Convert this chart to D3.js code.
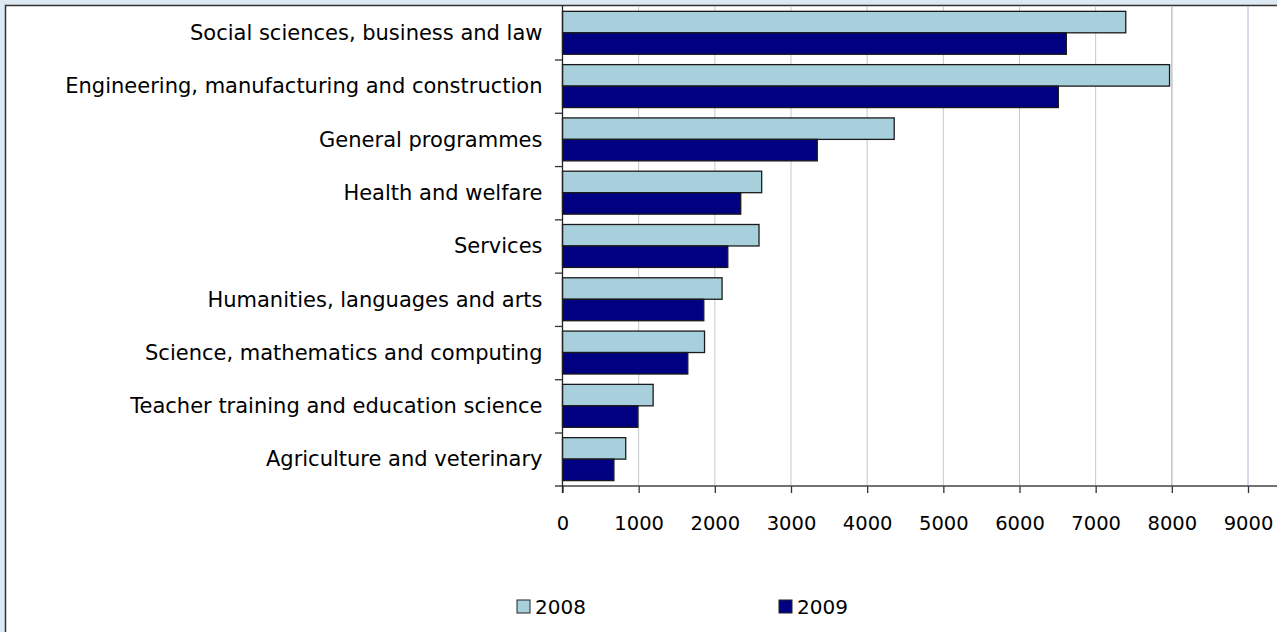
<!DOCTYPE html>
<html>
<head>
<meta charset="utf-8">
<script src="https://cdn.jsdelivr.net/npm/d3@7"></script>
<style>
  html, body { margin: 0; padding: 0; background: #dce8f2; }
  svg { display: block; }
  text { font-family: "DejaVu Sans", sans-serif; fill: #000; }
</style>
</head>
<body>
<svg id="chart" width="1277" height="632"></svg>
<script>
const categories = [
  "Social sciences, business and law",
  "Engineering, manufacturing and construction",
  "General programmes",
  "Health and welfare",
  "Services",
  "Humanities, languages and arts",
  "Science, mathematics and computing",
  "Teacher training and education science",
  "Agriculture and veterinary"
];
const seriesNames = ["2008", "2009"];
const values2008 = [7395, 7970, 4355, 2615, 2580, 2095, 1865, 1190, 830];
const values2009 = [6615, 6510, 3345, 2340, 2170, 1855, 1645, 990, 675];
const xTicks = [0, 1000, 2000, 3000, 4000, 5000, 6000, 7000, 8000, 9000];
const colors = ["#a8d0dc", "#000080"];

const svg = d3.select("#chart");
// chart frame
svg.append("rect").attr("x", 5.5).attr("y", 5.5).attr("width", 1290).attr("height", 640)
  .attr("fill", "#ffffff").attr("stroke", "#333333").attr("stroke-width", 1.5);

const x = d3.scaleLinear().domain([0, 9000]).range([562.5, 1248]);
const y = d3.scaleBand().domain(categories).range([6.7, 486.3]).padding(0);
const bw = y.bandwidth();
const ys = d3.scaleBand().domain(seriesNames).range([bw * 0.087, bw * 0.893]).padding(0);

// gridlines
svg.append("g").selectAll("line").data(xTicks.slice(1)).join("line")
  .attr("x1", d => x(d)).attr("x2", d => x(d))
  .attr("y1", 6).attr("y2", 486)
  .attr("stroke", d => d === 9000 ? "#b9b0dc" : "#c8c8c8")
  .attr("stroke-width", d => d === 8000 ? 1.6 : 1);

// bars
const data = categories.map((c, i) => ({ c, vals: [values2008[i], values2009[i]] }));
const groups = svg.append("g").selectAll("g").data(data).join("g")
  .attr("transform", d => `translate(0,${y(d.c)})`);
groups.selectAll("rect").data(d => d.vals.map((v, j) => ({ v, s: seriesNames[j], j })))
  .join("rect")
  .attr("x", x(0))
  .attr("y", d => ys(d.s))
  .attr("width", d => x(d.v) - x(0))
  .attr("height", ys.bandwidth())
  .attr("fill", d => colors[d.j])
  .attr("stroke", "#1a1a1a").attr("stroke-width", 1.3);

// bottom axis
const xAxis = d3.axisBottom(x).tickValues(xTicks).tickSize(7).tickPadding(23).tickFormat(d3.format("d"));
const gx = svg.append("g").attr("transform", "translate(0,486)").call(xAxis);
gx.select(".domain").remove();
gx.selectAll(".tick line").attr("stroke", "#333").attr("stroke-width", 1.3);
gx.selectAll("text").style("font-size", "19.5px");
svg.append("line").attr("x1", 555).attr("x2", 1277).attr("y1", 486).attr("y2", 486)
  .attr("stroke", "#444").attr("stroke-width", 1.5);

// left axis line and boundary ticks
svg.append("line").attr("x1", x(0)).attr("x2", x(0)).attr("y1", 6).attr("y2", 493)
  .attr("stroke", "#222").attr("stroke-width", 1.3);
svg.append("g").selectAll("line").data(categories.slice(1)).join("line")
  .attr("x1", 555).attr("x2", x(0))
  .attr("y1", d => y(d)).attr("y2", d => y(d))
  .attr("stroke", "#333").attr("stroke-width", 1.3);

// category labels
const yAxis = d3.axisLeft(y).tickSize(0).tickPadding(20);
const gy = svg.append("g").attr("transform", `translate(${x(0)},0)`).call(yAxis);
gy.select(".domain").remove();
gy.selectAll("text").style("font-size", "21px");

// legend
const legend = svg.append("g");
const legX = [517, 779];
seriesNames.forEach((s, i) => {
  legend.append("rect").attr("x", legX[i]).attr("y", 600).attr("width", 13).attr("height", 13)
    .attr("fill", colors[i]).attr("stroke", "#222").attr("stroke-width", 1);
  legend.append("text").attr("x", legX[i] + 18).attr("y", 614)
    .style("font-size", "20px").text(s);
});
</script>
</body>
</html>
